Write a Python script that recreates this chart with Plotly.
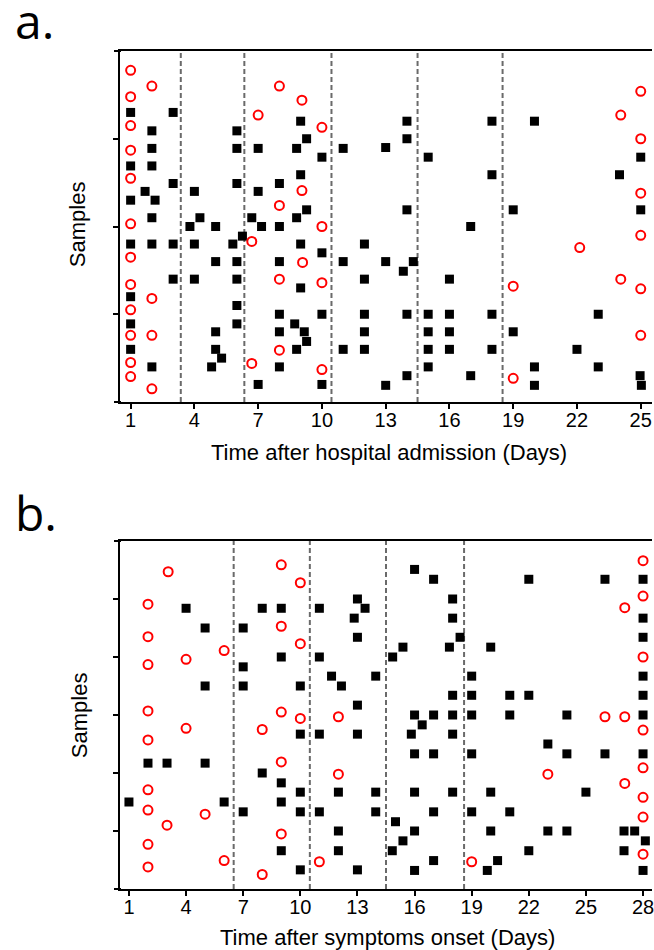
import plotly.graph_objects as go

# ---------------- Panel a: time after hospital admission ----------------
a_sq_day = [1, 3, 9, 2, 6, 9.28, 2, 6, 7, 8.81, 11, 10, 1, 2, 9, 3, 6, 8, 1.68, 4, 7, 2.15, 1,
            9.28, 2, 4.26, 6.7, 8.81, 3.79, 5, 7.16, 8, 1, 2, 3, 4, 5.81, 6.26, 9, 12, 5, 6, 8, 10,
            11, 3, 4, 6, 9, 12, 1, 6, 8, 10, 12, 1, 6, 8.72, 5, 8, 9.17, 9.28, 12, 1, 5, 5.28,
            8.81, 11, 12, 2, 4.81, 8, 7, 10,
            14, 18, 20, 14, 13, 15, 18, 14, 19, 25, 24, 25, 17, 13, 14.3, 13.83, 16, 14, 15, 16,
            18, 23, 15, 16, 19, 15, 16, 18, 22, 15, 20, 23, 13, 14, 17, 20, 24.97, 25.03]
a_sq_y = [3.30, 3.30, 3.20, 3.09, 3.09, 3.00, 2.89, 2.89, 2.89, 2.89, 2.89, 2.79, 2.69, 2.69,
          2.59, 2.49, 2.49, 2.49, 2.40, 2.40, 2.40, 2.30, 2.30, 2.19, 2.10, 2.10, 2.10, 2.10,
          2.00, 2.00, 2.00, 2.00, 1.80, 1.80, 1.80, 1.80, 1.80, 1.89, 1.80, 1.80, 1.60, 1.60,
          1.60, 1.70, 1.60, 1.40, 1.40, 1.40, 1.30, 1.40, 1.20, 1.10, 1.00, 1.00, 1.00, 0.89,
          0.89, 0.89, 0.80, 0.80, 0.80, 0.69, 0.80, 0.60, 0.60, 0.50, 0.60, 0.60, 0.60, 0.40,
          0.40, 0.40, 0.20, 0.20,
          3.20, 3.20, 3.20, 3.00, 2.90, 2.79, 2.59, 2.19, 2.19, 2.79, 2.59, 2.19, 2.00, 1.60,
          1.60, 1.49, 1.40, 1.00, 1.00, 1.00, 1.00, 1.00, 0.80, 0.80, 0.80, 0.60, 0.60, 0.60,
          0.60, 0.40, 0.40, 0.40, 0.19, 0.30, 0.30, 0.19, 0.30, 0.19]
a_ci_day = [1, 2, 1, 8, 9.06, 7, 10, 1, 1, 1, 9.06, 8, 1, 10, 6.7, 1, 9.09, 8, 10, 1, 2, 1, 1,
            2, 8, 1, 6.7, 10, 1, 2,
            25, 24.06, 25, 25, 25, 22.13, 19, 24.06, 25, 25, 19]
a_ci_y = [3.78, 3.60, 3.48, 3.60, 3.44, 3.27, 3.13, 3.15, 2.87, 2.55, 2.41, 2.24, 2.03, 2.00,
          1.83, 1.65, 1.59, 1.40, 1.36, 1.34, 1.18, 1.05, 0.76, 0.76, 0.59, 0.45, 0.44, 0.37,
          0.29, 0.15,
          3.54, 3.27, 3.00, 2.38, 1.90, 1.76, 1.32, 1.40, 1.29, 0.76, 0.27]
a_dash = [3.36, 6.35, 10.45, 14.5, 18.5]
a_ticks = [1, 4, 7, 10, 13, 16, 19, 22, 25]
a_yticks = [1, 2, 3]

# ---------------- Panel b: time after symptoms onset ----------------
b_sq_day = [4, 8, 9, 11, 13, 13.4, 12.83, 5, 7, 13, 9, 11, 7, 11.64, 12.16, 13.96, 5, 7, 10, 13,
            10, 11, 13, 2, 3, 5, 8, 9, 10, 12, 13.96, 1, 6, 9, 7, 10, 11, 13.96, 12, 9, 12, 10, 13,
            16, 17, 22, 26, 28, 18, 18, 28, 18.39, 28, 15.39, 17.83, 20, 14.85, 19, 28, 18, 19,
            21, 22, 28,
            16, 17, 18, 19, 21, 24, 28, 16.4, 15.83, 18, 23, 16, 17, 19, 24, 26, 28, 16, 18, 20,
            25, 17, 19, 21, 15, 16, 20, 23, 24, 27, 27.56, 15.39, 28.12, 14.83, 22, 27, 17, 20.36,
            16, 19.82, 28]
b_sq_y = [4.84, 4.84, 4.84, 4.84, 5.00, 4.84, 4.67, 4.50, 4.50, 4.34, 4.00, 4.00, 3.83, 3.67,
          3.50, 3.67, 3.50, 3.50, 3.50, 3.17,
          2.67, 2.67, 2.67, 2.17, 2.17, 2.17, 2.00, 1.83, 1.67, 1.67, 1.67, 1.50, 1.50, 1.50,
          1.33, 1.33, 1.33, 1.33, 1.00, 0.66, 0.66, 0.33, 0.33,
          5.51, 5.34, 5.34, 5.34, 5.34, 5.00, 4.67, 4.67, 4.34, 4.34, 4.17, 4.17, 4.17, 4.00,
          3.67, 3.67, 3.34, 3.34, 3.34, 3.34, 3.34,
          3.00, 3.00, 3.00, 3.00, 3.00, 3.00, 3.00, 2.83, 2.67, 2.67, 2.50, 2.33, 2.33, 2.33,
          2.33, 2.33, 2.33, 1.67, 1.67, 1.67, 1.67, 1.33, 1.33, 1.33, 1.16, 1.00, 1.00, 1.00,
          1.00, 1.00, 1.00, 0.83, 0.83, 0.66, 0.66, 0.66, 0.49, 0.49, 0.32, 0.32, 0.32]
b_ci_day = [3.06, 9, 10, 2, 9, 2, 10, 6, 4, 2, 2, 9, 10, 12, 4, 8, 2, 9, 12, 2, 2, 5, 3, 9, 2,
            6, 11, 2, 8,
            28, 28, 27.04, 28, 26, 27.04, 28, 28, 23, 27.04, 28, 28, 28, 19]
b_ci_y = [5.47, 5.59, 5.28, 4.91, 4.53, 4.35, 4.23, 4.11, 3.96, 3.87, 3.07, 3.05, 2.94, 2.97,
          2.77, 2.75, 2.57, 2.19, 1.98, 1.71, 1.36, 1.29, 1.10, 0.95, 0.77, 0.49, 0.47, 0.38,
          0.25,
          5.66, 5.05, 4.85, 4.00, 2.97, 2.97, 2.74, 2.09, 1.98, 1.82, 1.58, 1.24, 0.60, 0.47]
b_dash = [6.5, 10.5, 14.5, 18.6]
b_ticks = [1, 4, 7, 10, 13, 16, 19, 22, 25, 28]
b_yticks = [1, 2, 3, 4, 5]

# ---------------- layout geometry (pixels) ----------------
W, H = 654, 950
L, R, T, B = 120, 0, 51, 61
PW, PH = W - L - R, H - T - B


def px(x):
    return (x - L) / PW


def py(y):
    return (H - B - y) / PH


SQ = dict(symbol="square", size=9, color="black", line=dict(width=0))
CI = dict(symbol="circle-open", size=9, color="#ff0000", line=dict(width=2, color="#ff0000"))

fig = go.Figure()
fig.add_trace(go.Scatter(x=a_sq_day, y=a_sq_y, mode="markers", marker=SQ, xaxis="x", yaxis="y"))
fig.add_trace(go.Scatter(x=a_ci_day, y=a_ci_y, mode="markers", marker=CI, xaxis="x", yaxis="y"))
fig.add_trace(go.Scatter(x=b_sq_day, y=b_sq_y, mode="markers", marker=SQ, xaxis="x2", yaxis="y2"))
fig.add_trace(go.Scatter(x=b_ci_day, y=b_ci_y, mode="markers", marker=CI, xaxis="x2", yaxis="y2"))

shapes = []
for d in a_dash:
    shapes.append(dict(type="line", xref="x", yref="y domain", x0=d, x1=d, y0=0, y1=1,
                       line=dict(color="#6a6a6a", width=2, dash="5px,3px"), layer="below"))
for d in b_dash:
    shapes.append(dict(type="line", xref="x2", yref="y2 domain", x0=d, x1=d, y0=0, y1=1,
                       line=dict(color="#6a6a6a", width=2, dash="5px,3px"), layer="below"))
# small left overhang of horizontal frame lines
for yy in (51, 402, 541, 889):
    shapes.append(dict(type="line", xref="paper", yref="paper", x0=px(114), x1=px(121),
                       y0=py(yy), y1=py(yy), line=dict(color="black", width=2)))

tickfont = dict(family="Liberation Sans, Arial, sans-serif", size=20, color="black")
common_x = dict(showline=True, linecolor="black", linewidth=2, mirror=True, ticks="outside",
                ticklen=5, tickwidth=2, tickcolor="black", showgrid=False, zeroline=False,
                tickfont=tickfont, ticklabeloverflow="allow", ticklabelstandoff=-6)
common_y = dict(showline=True, linecolor="black", linewidth=2, ticks="outside", ticklen=5,
                tickwidth=2, tickcolor="black", showgrid=False, zeroline=False,
                showticklabels=False)

top_a = py(51)
bot_a = py(402)
top_b = py(541)
bot_b = py(889)

fig.update_layout(
    width=W, height=H, margin=dict(l=L, r=R, t=T, b=B),
    paper_bgcolor="white", plot_bgcolor="white", showlegend=False,
    xaxis=dict(common_x, domain=[0, 1], anchor="y", range=[0.5, 25.53], tickvals=a_ticks),
    yaxis=dict(common_y, domain=[bot_a, top_a], anchor="x", range=[0, 4], tickvals=a_yticks),
    xaxis2=dict(common_x, domain=[0, 1], anchor="y2", range=[0.53, 28.47], tickvals=b_ticks),
    yaxis2=dict(common_y, domain=[bot_b, top_b], anchor="x2", range=[0, 6], tickvals=b_yticks),
    shapes=shapes,
)

title_font = dict(family="Liberation Sans, Arial, sans-serif", size=22, color="black")
label_font = dict(family="Open Sans, sans-serif", size=48, color="black")
ann = [
    dict(text="a.", x=px(13), y=py(20), xanchor="left", yanchor="middle", font=label_font),
    dict(text="b.", x=px(13), y=py(512), xanchor="left", yanchor="middle", font=label_font),
    dict(text="Samples", x=px(77), y=py(224), xanchor="center", yanchor="middle",
         textangle=-90, font=title_font),
    dict(text="Samples", x=px(79), y=py(715), xanchor="center", yanchor="middle",
         textangle=-90, font=title_font),
    dict(text="Time after hospital admission (Days)", x=px(390), y=py(452), xanchor="center",
         yanchor="middle", font=title_font),
    dict(text="Time after symptoms onset (Days)", x=px(389), y=py(937), xanchor="center",
         yanchor="middle", font=title_font),
]
for a in ann:
    a.update(xref="paper", yref="paper", showarrow=False)
fig.update_layout(annotations=ann)

fig.write_html(
    "out.html",
    config={"displayModeBar": False},
    post_script="document.body.style.margin='0';document.body.style.overflow='hidden';",
)
